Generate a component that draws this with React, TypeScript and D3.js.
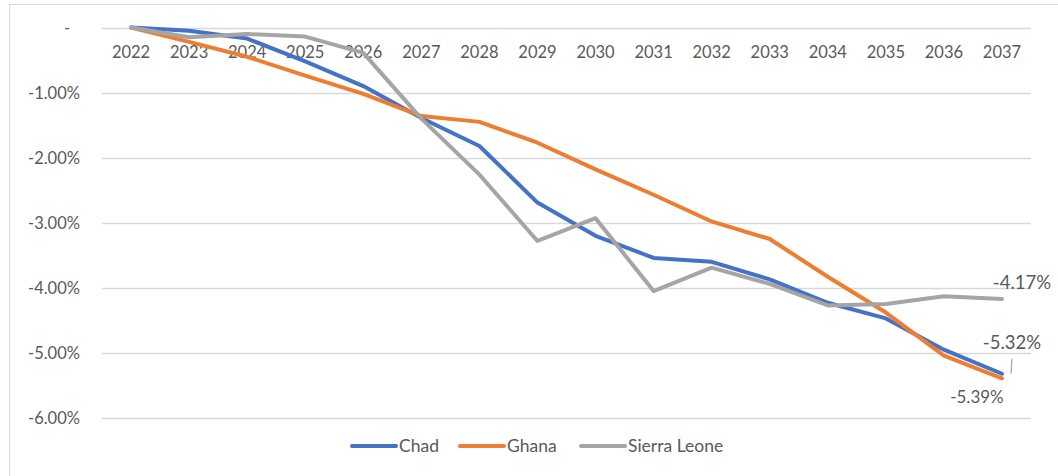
import React, { useEffect, useRef } from 'react';
import * as d3 from 'd3';

const years = ['2022', '2023', '2024', '2025', '2026', '2027', '2028', '2029', '2030', '2031', '2032', '2033', '2034', '2035', '2036', '2037'];
const chad = [0, -0.05, -0.17, -0.52, -0.9, -1.39, -1.82, -2.69, -3.2, -3.54, -3.6, -3.87, -4.23, -4.47, -4.95, -5.32];
const ghana = [0, -0.22, -0.45, -0.74, -1.02, -1.36, -1.45, -1.77, -2.18, -2.57, -2.98, -3.25, -3.83, -4.38, -5.04, -5.39];
const sierraLeone = [0, -0.15, -0.1, -0.14, -0.39, -1.4, -2.26, -3.28, -2.93, -4.05, -3.69, -3.94, -4.27, -4.25, -4.13, -4.17];
const yTicks = [0, -1, -2, -3, -4, -5, -6];

const series = [
  { name: 'Chad', values: chad, color: '#4472C4' },
  { name: 'Ghana', values: ghana, color: '#ED7D31' },
  { name: 'Sierra Leone', values: sierraLeone, color: '#A5A5A5' },
];

const FONT = 'Lato, "Open Sans", sans-serif';
// excel style: plain hyphen, not the unicode minus
const pct = (v: number) => v.toFixed(2) + '%';

export default function App() {
  const ref = useRef<SVGSVGElement>(null);

  useEffect(() => {
    const svg = d3.select(ref.current);
    svg.selectAll('*').remove();

    // frame of the chart area
    svg.append('path')
      .attr('d', 'M9.5,476 L9.5,4.5 L1058,4.5')
      .attr('fill', 'none')
      .attr('stroke', '#d9d9d9')
      .attr('stroke-width', 1);

    const x = d3.scaleBand().domain(years).range([102, 1031]);
    const y = d3.scaleLinear().domain([0, -6]).range([27.5, 418]);
    const cx = (d: string) => (x(d) as number) + x.bandwidth() / 2;

    // gridlines
    svg.append('g').selectAll('line')
      .data(yTicks)
      .enter()
      .append('line')
      .attr('x1', 102)
      .attr('x2', 1031)
      .attr('y1', d => Math.round(y(d)) + 0.5)
      .attr('y2', d => Math.round(y(d)) + 0.5)
      .attr('stroke', '#d9d9d9')
      .attr('stroke-width', 1.5);

    // y labels
    svg.append('g').selectAll('text')
      .data(yTicks)
      .enter()
      .append('text')
      .attr('x', d => (d === 0 ? 67 : 80))
      .attr('y', d => y(d) + 6)
      .attr('text-anchor', d => (d === 0 ? 'middle' : 'end'))
      .attr('font-family', FONT)
      .attr('font-size', 16.5)
      .attr('fill', '#595959')
      .text(d => (d === 0 ? '-' : pct(d)));

    // x labels
    svg.append('g').selectAll('text')
      .data(years)
      .enter()
      .append('text')
      .attr('x', d => cx(d))
      .attr('y', 58)
      .attr('text-anchor', 'middle')
      .attr('font-family', FONT)
      .attr('font-size', 16.5)
      .attr('fill', '#595959')
      .text(d => d);

    const line = d3.line<number>()
      .x((d, i) => cx(years[i]))
      .y(d => y(d));

    svg.append('g').selectAll('path')
      .data(series)
      .enter()
      .append('path')
      .attr('d', d => line(d.values))
      .attr('fill', 'none')
      .attr('stroke', d => d.color)
      .attr('stroke-width', 4)
      .attr('stroke-linejoin', 'round')
      .attr('stroke-linecap', 'round');

    // data labels on the last point
    const lx = cx(years[years.length - 1]);
    svg.append('text')
      .attr('x', lx + 20).attr('y', y(sierraLeone[15]) - 10)
      .attr('text-anchor', 'middle')
      .attr('font-family', FONT).attr('font-size', 18.5).attr('fill', '#595959')
      .text(pct(sierraLeone[15]));
    svg.append('line')
      .attr('x1', lx + 10).attr('x2', lx + 9)
      .attr('y1', y(chad[15]) - 15).attr('y2', y(chad[15]))
      .attr('stroke', '#a6a6a6').attr('stroke-width', 1.2);
    svg.append('text')
      .attr('x', lx + 10).attr('y', y(chad[15]) - 25)
      .attr('text-anchor', 'middle')
      .attr('font-family', FONT).attr('font-size', 18.5).attr('fill', '#595959')
      .text(pct(chad[15]));
    svg.append('text')
      .attr('x', lx - 25).attr('y', y(ghana[15]) + 25)
      .attr('text-anchor', 'middle')
      .attr('font-family', FONT).attr('font-size', 17).attr('fill', '#595959')
      .text(pct(ghana[15]));

    // legend
    const legendX = [352, 460, 581];
    const legend = svg.append('g').selectAll('g')
      .data(series)
      .enter()
      .append('g')
      .attr('transform', (d, i) => 'translate(' + legendX[i] + ',446)');
    legend.append('line')
      .attr('x1', 0).attr('x2', 44)
      .attr('stroke', d => d.color)
      .attr('stroke-width', 4)
      .attr('stroke-linecap', 'round');
    legend.append('text')
      .attr('x', 47).attr('y', 6)
      .attr('font-family', FONT).attr('font-size', 17.5).attr('fill', '#595959')
      .text(d => d.name);
  }, []);

  return (
    <svg
      ref={ref}
      width={1058}
      height={476}
      style={{ position: 'absolute', left: 0, top: 0, background: '#fff' }}
    />
  );
}
